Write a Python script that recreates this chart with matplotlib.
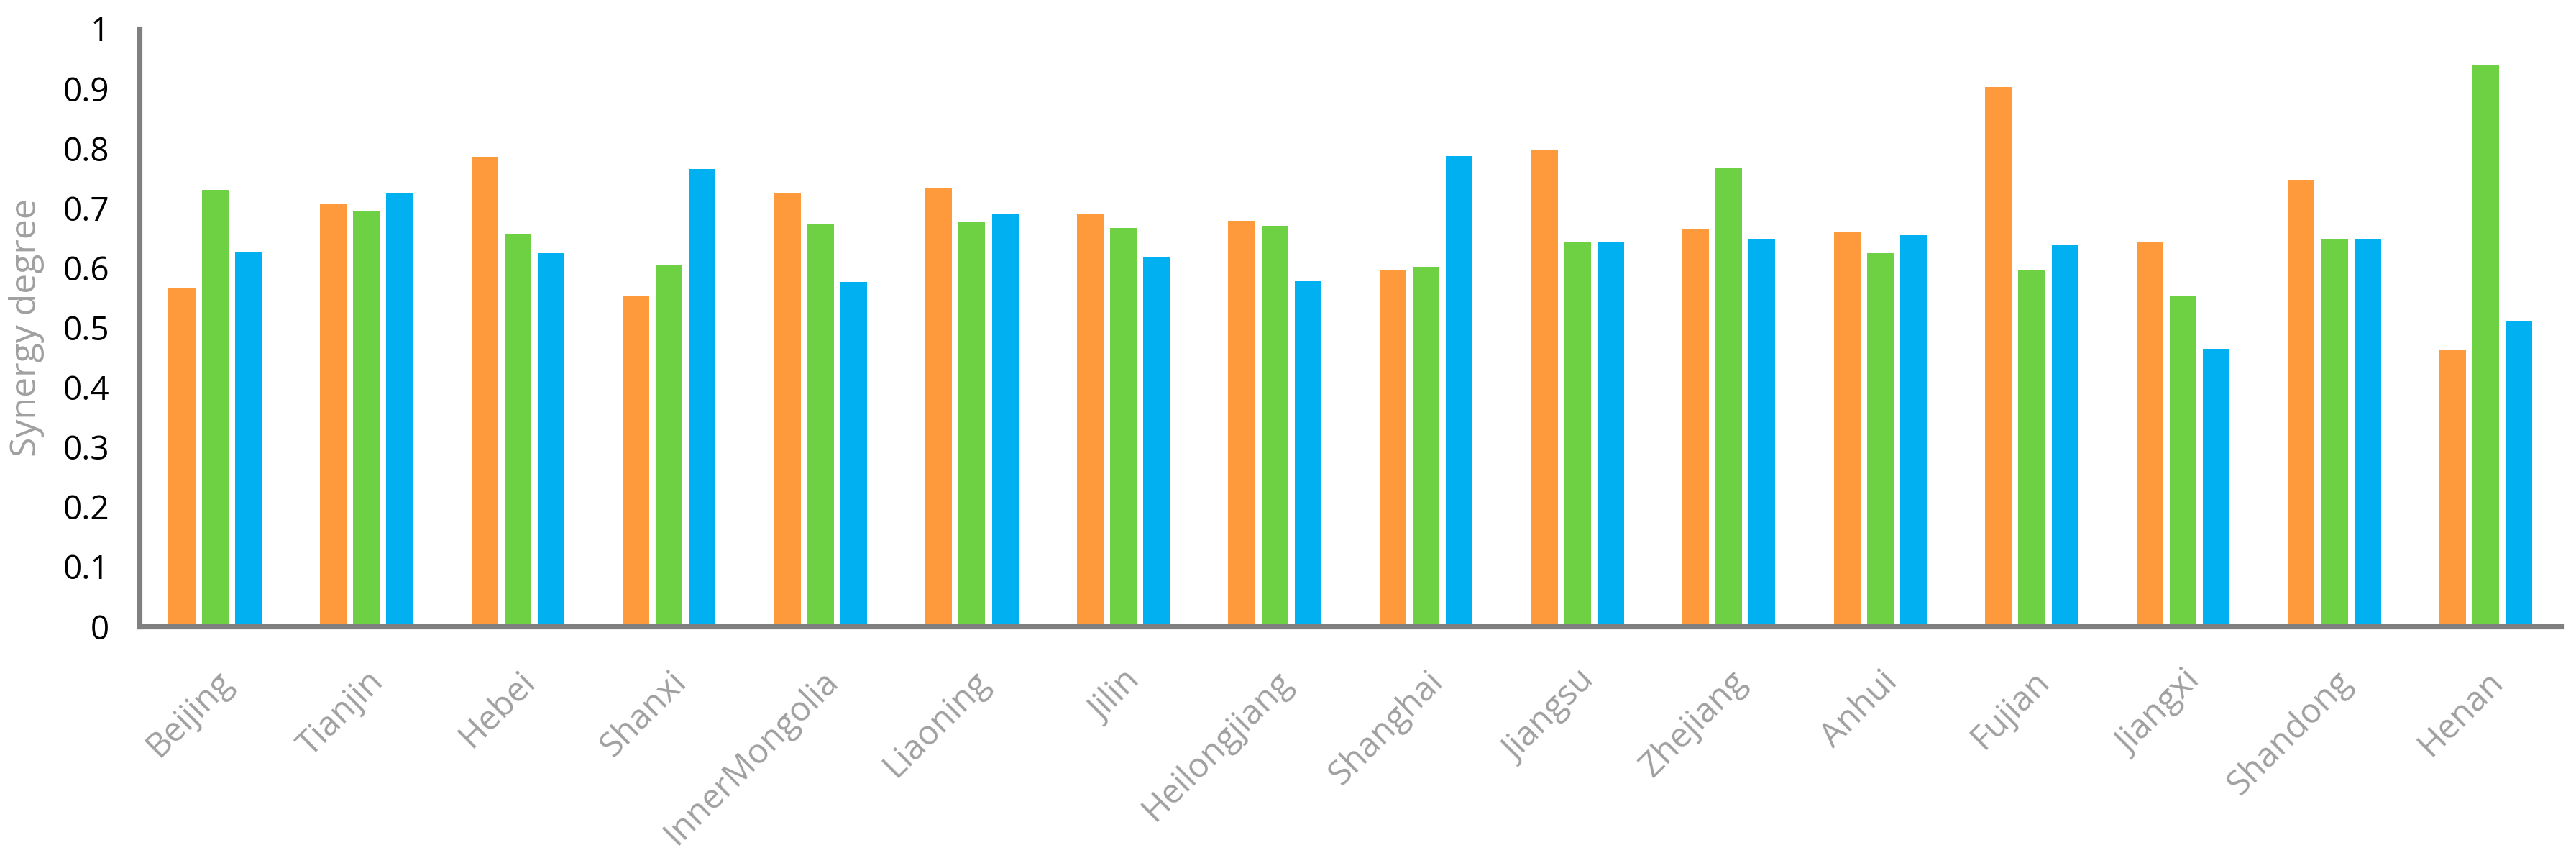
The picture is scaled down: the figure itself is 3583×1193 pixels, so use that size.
import matplotlib
matplotlib.use("Agg")
import matplotlib.pyplot as plt
import numpy as np

plt.rcParams['font.family'] = ['Open Sans', 'DejaVu Sans']

provinces = ["Beijing", "Tianjin", "Hebei", "Shanxi", "InnerMongolia", "Liaoning",
             "Jilin", "Heilongjiang", "Shanghai", "Jiangsu", "Zhejiang", "Anhui",
             "Fujian", "Jiangxi", "Shandong", "Henan"]

# three synergy series (orange, green, blue)
series_orange = [0.567, 0.707, 0.786, 0.553, 0.724, 0.733, 0.691, 0.679,
                 0.597, 0.798, 0.666, 0.660, 0.903, 0.644, 0.747, 0.462]
series_green = [0.730, 0.694, 0.656, 0.604, 0.673, 0.676, 0.667, 0.670,
                0.602, 0.643, 0.766, 0.625, 0.597, 0.553, 0.647, 0.940]
series_blue = [0.627, 0.725, 0.625, 0.765, 0.576, 0.690, 0.617, 0.578,
               0.787, 0.644, 0.648, 0.655, 0.639, 0.464, 0.648, 0.510]

colors = ["#FF9A3C", "#6DD143", "#00B0F0"]
yticks = [0, 0.1, 0.2, 0.3, 0.4, 0.5, 0.6, 0.7, 0.8, 0.9, 1]
ytick_labels = ["0", "0.1", "0.2", "0.3", "0.4", "0.5", "0.6", "0.7", "0.8", "0.9", "1"]

fig = plt.figure(figsize=(35.83, 11.93), dpi=100)
ax = fig.add_axes([0.0541, 0.2699, 0.9403, 0.6966])

x = np.arange(len(provinces))
width = 0.176
step = 0.219
for i, vals in enumerate([series_orange, series_green, series_blue]):
    ax.bar(x + (i - 1) * step, vals, width=width, color=colors[i], zorder=2)

ax.set_xlim(-0.5, len(provinces) - 0.5)
ax.set_ylim(0, 1)

for side in ["top", "right"]:
    ax.spines[side].set_visible(False)
for side in ["left", "bottom"]:
    ax.spines[side].set_color("#808080")
    ax.spines[side].set_linewidth(5.2)
    ax.spines[side].set_zorder(3)

ax.set_yticks(yticks)
ax.set_yticklabels(ytick_labels, fontsize=33, color="black")
ax.tick_params(axis="y", length=0, pad=30)

ax.set_xticks(x)
ax.set_xticklabels(provinces, fontsize=34, color="#A0A0A0",
                   rotation=45, ha="right", va="top", rotation_mode="anchor")
ax.tick_params(axis="x", length=0, pad=38)

# label sits in the narrow strip left of the tick numbers
ax.set_ylabel("Synergy degree", fontsize=36, color="#A0A0A0")
ax.yaxis.set_label_coords(-0.039, 0.5)

fig.savefig("out.png", dpi=100, facecolor="white")
